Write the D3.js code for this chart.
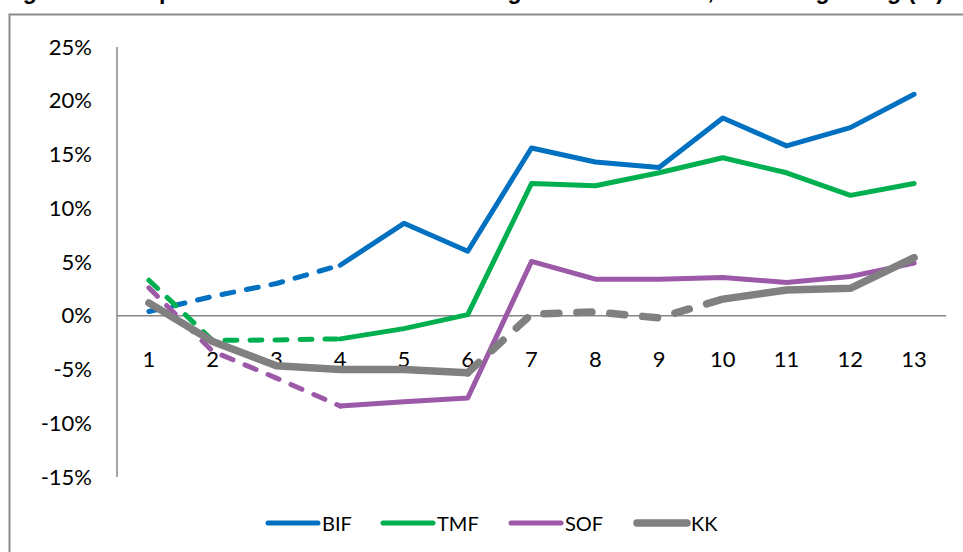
<!DOCTYPE html>
<meta charset="utf-8">
<html lang="en">
  <head>
    <style>
      body { margin: 0; background: #fff; }
      .tick-label { font: 22px Lato, "Open Sans", sans-serif; fill: #000; }
      .legend-label { font: 20px Lato, "Open Sans", sans-serif; fill: #000; }
      .title { font: bold 23px "Liberation Sans", Arial, sans-serif; fill: #000; }
      .axis-line { stroke: #868686; stroke-width: 1.5px; }
    </style>
  </head>
  <body>
    <script src="https://cdn.jsdelivr.net/npm/d3@7"></script>
    <svg></svg>
    <script>

      var periods = [1, 2, 3, 4, 5, 6, 7, 8, 9, 10, 11, 12, 13];

      var bif = [0.4, 1.8, 3.0, 4.7, 8.6, 6.0, 15.6, 14.3, 13.8, 18.4, 15.8, 17.5, 20.6];
      var tmf = [3.3, -2.3, -2.25, -2.15, -1.2, 0.1, 12.3, 12.1, 13.3, 14.7, 13.3, 11.2, 12.3];
      var sof = [2.6, -3.3, -5.8, -8.4, -8.0, -7.65, 5.05, 3.4, 3.4, 3.55, 3.1, 3.65, 4.9];
      var kk  = [1.2, -2.4, -4.65, -5.0, -5.0, -5.3, 0.15, 0.35, -0.2, 1.55, 2.4, 2.55, 5.4];

      var seriesNames = ["BIF", "TMF", "SOF", "KK"];
      var yTicks = [25, 20, 15, 10, 5, 0, -5, -10, -15];

      var width = 963, height = 552;

      var svg = d3.select("svg")
        .attr("width", width)
        .attr("height", height);

      // chart frame (only top/left visible in the crop)
      svg.append("rect")
        .attr("x", 9.5).attr("y", 14.5)
        .attr("width", 1000).attr("height", 600)
        .attr("fill", "none")
        .attr("stroke", "#8c8c8c")
        .attr("stroke-width", 2);

      // title, cut off at the top of the picture like in the source
      svg.append("text")
        .attr("class", "title")
        .attr("x", 2).attr("y", -1)
        .attr("textLength", 942)
        .text("Figure 5: Comparison of cumulative returns against benchmark, excluding rating (%)");

      var x = d3.scaleBand().domain(periods).range([117, 946]);
      var y = d3.scaleLinear().domain([-15, 25]).range([477, 47]);

      var px = function(i) { return x(periods[i]) + x.bandwidth() / 2; };

      // y axis
      svg.append("line").attr("class", "axis-line")
        .attr("x1", 117).attr("x2", 117)
        .attr("y1", y(25)).attr("y2", y(-15));

      svg.selectAll(".ylab")
        .data(yTicks)
        .enter()
        .append("text")
        .attr("class", "tick-label")
        .attr("x", 92)
        .attr("y", function(d) { return y(d); })
        .attr("dy", "0.35em")
        .attr("text-anchor", "end")
        .text(function(d) { return d + "%"; });

      // zero line / x axis
      svg.append("line").attr("class", "axis-line")
        .attr("x1", 117).attr("x2", 946)
        .attr("y1", y(0)).attr("y2", y(0));

      svg.selectAll(".xlab")
        .data(periods)
        .enter()
        .append("text")
        .attr("class", "tick-label")
        .attr("x", function(d) { return x(d) + x.bandwidth() / 2; })
        .attr("y", y(0) + 44)
        .attr("dy", "0.35em")
        .attr("text-anchor", "middle")
        .text(function(d) { return d; });

      var series = [
        { name: "BIF", values: bif, color: "#0070c0", w: 5, dashed: [0, 3], dash: "12,13" },
        { name: "TMF", values: tmf, color: "#00b050", w: 5, dashed: [0, 3], dash: "12,13" },
        { name: "SOF", values: sof, color: "#9b59a8", w: 5, dashed: [0, 3], dash: "12,13" },
        { name: "KK",  values: kk,  color: "#808080", w: 7.5, dashed: [5, 9], dash: "15,18" }
      ];

      var line = d3.line()
        .x(function(d) { return px(d.i); })
        .y(function(d) { return y(d.v); });

      series.forEach(function(s) {
        var pts = s.values.map(function(v, i) { return { i: i, v: v }; });
        var a = s.dashed[0], b = s.dashed[1];
        var runs = [
          { pts: pts.slice(0, a + 1), dashed: false },
          { pts: pts.slice(a, b + 1), dashed: true },
          { pts: pts.slice(b), dashed: false }
        ].filter(function(r) { return r.pts.length > 1; });

        var g = svg.append("g");
        runs.forEach(function(r) {
          g.append("path")
            .attr("d", line(r.pts))
            .attr("fill", "none")
            .attr("stroke", s.color)
            .attr("stroke-width", s.w)
            .attr("stroke-linejoin", "round")
            .attr("stroke-linecap", "round")
            .attr("stroke-dasharray", r.dashed ? s.dash : null);
        });
      });

      // legend
      var legendX = [268, 383, 511, 637];
      var legend = svg.selectAll(".legend")
        .data(series)
        .enter()
        .append("g")
        .attr("transform", function(d, i) { return "translate(" + legendX[i] + ",523)"; });

      legend.append("line")
        .attr("x1", 0).attr("x2", 50)
        .attr("y1", 0).attr("y2", 0)
        .attr("stroke", function(d) { return d.color; })
        .attr("stroke-width", function(d) { return d.w; })
        .attr("stroke-linecap", "round");

      legend.append("text")
        .attr("class", "legend-label")
        .attr("x", 54)
        .attr("y", 1)
        .attr("dy", "0.35em")
        .text(function(d) { return d.name; });

    </script>
  </body>
</html>
